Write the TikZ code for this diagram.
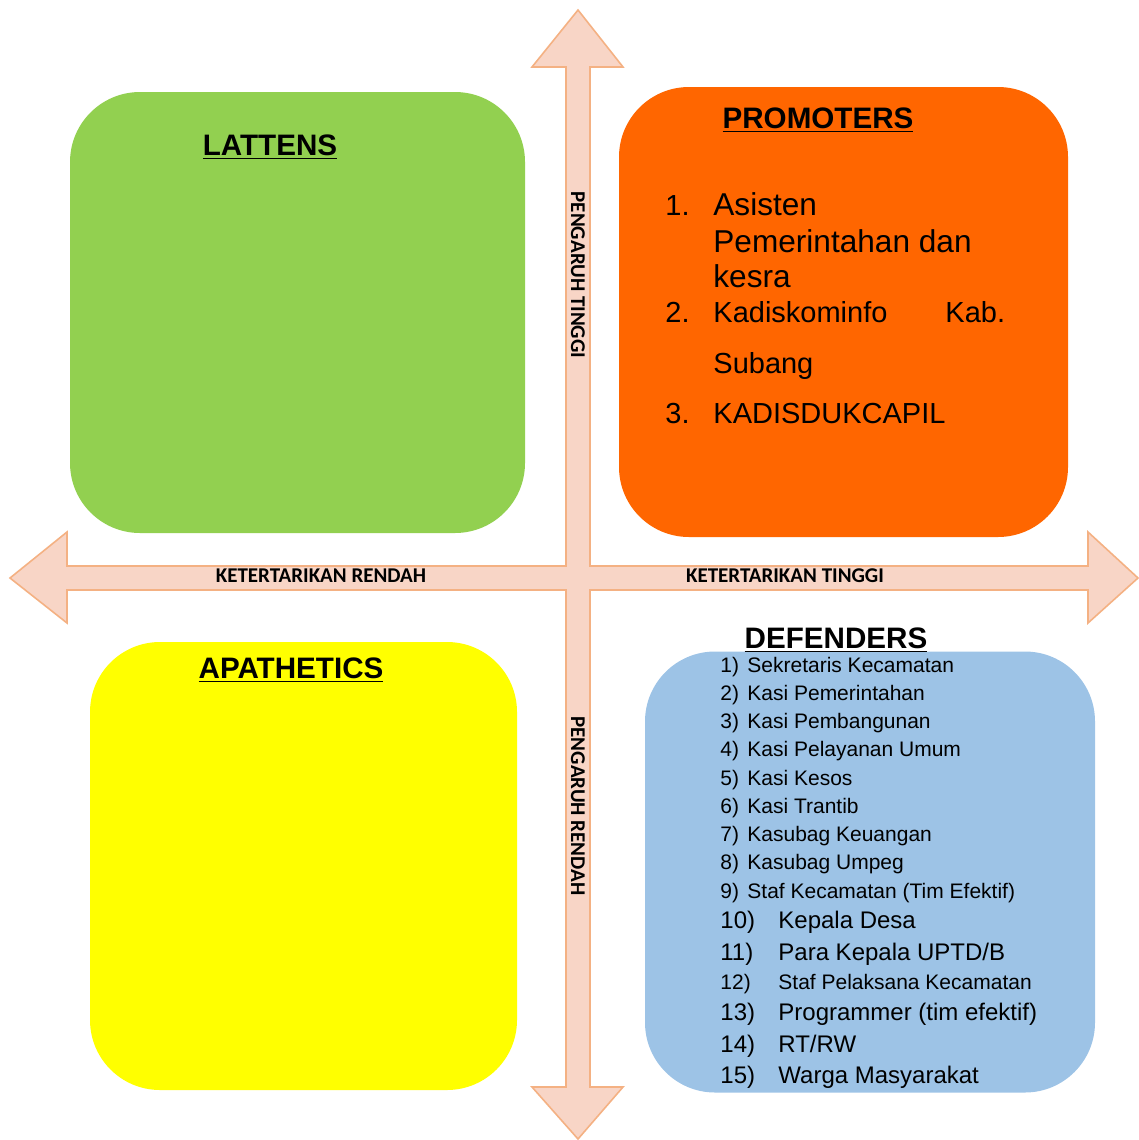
\documentclass[tikz,border=0pt]{standalone}
\usepackage{fontspec}
\setmainfont{Liberation Sans}
\newfontfamily\axisfont{Carlito}

\definecolor{latgreen}{RGB}{146,208,80}
\definecolor{proorange}{RGB}{255,102,0}
\definecolor{apayellow}{RGB}{255,255,0}
\definecolor{defblue}{RGB}{157,195,230}
\definecolor{arrowfill}{RGB}{248,213,198}
\definecolor{arrowline}{RGB}{244,177,131}

\tikzstyle{quad}=[rounded corners=35pt,inner sep=0pt]
\tikzstyle{axis}=[draw=arrowline,fill=arrowfill,line width=0.8pt,line join=miter]
\tikzstyle{axislabel}=[font=\axisfont\bfseries\fontsize{10.5}{12}\selectfont,inner sep=0pt]
\tikzstyle{heading}=[font=\bfseries\fontsize{14.8}{17}\selectfont,anchor=base,inner sep=0pt]
\tikzstyle{item}=[anchor=base west,inner sep=0pt]

\begin{document}
\begin{tikzpicture}[x=0.5pt,y=-0.5pt]
      \useasboundingbox (0,0) rectangle (1139,1140);
      % First we draw the crossing arrows
      \draw[axis] (578,10) -- (623,67) -- (590,67) -- (590,566) -- (1088,566) -- (1088,532)
            -- (1138,578) -- (1088,623) -- (1088,590) -- (590,590) -- (590,1087) -- (623,1087)
            -- (578,1139) -- (532,1087) -- (566,1087) -- (566,590) -- (67,590) -- (67,623)
            -- (10,578) -- (67,532) -- (67,566) -- (566,566) -- (566,67) -- (532,67) -- cycle;
      % Axis labels
      \node[axislabel,anchor=base] (lowint) at (321,582) {KETERTARIKAN RENDAH};
      \node[axislabel,anchor=base] (highint) at (785,582) {KETERTARIKAN TINGGI};
      \node[axislabel,rotate=-90] (highinf) at (578,275) {PENGARUH TINGGI};
      \node[axislabel,rotate=-90] (lowinf) at (578,806) {PENGARUH RENDAH};
      % Then the four quadrants
      \foreach \pos/\name/\col/\w/\h in {{(297.5,312.5)/lat/latgreen/227.5/220.5},
      {(843.5,312)/pro/proorange/224.5/225},
      {(303.5,866)/apa/apayellow/213.5/224},
      {(870,872)/def/defblue/225/220.5}}
            \node[quad,fill=\col,minimum width=\w pt,minimum height=\h pt] (\name) at \pos {};
      % Headings
      \node[heading] (latT) at (270,155) {\underline{LATTENS}};
      \node[heading] (proT) at (818,128) {\underline{PROMOTERS}};
      \node[heading] (apaT) at (291,678) {\underline{APATHETICS}};
      \node[heading] (defT) at (836,648) {\underline{DEFENDERS}};
      % Promoters list
      \foreach \pos/\name/\la/\sz in {{(665,215)/p1/1./14.5},{(713,215)/p1a/Asisten/15.8},
      {(713,252)/p1b/Pemerintahan dan/15.8},{(713,287)/p1c/kesra/15.8},
      {(665,322)/p2/2./14.5},{(713,322)/p2a/Kadiskominfo/14.5},{(945,322)/p2b/Kab./14.5},
      {(713,373)/p2c/Subang/14.5},{(665,423)/p3/3./14.5},{(713,423)/p3a/KADISDUKCAPIL/14.5}}
            \node[item,font=\fontsize{\sz}{17}\selectfont] (\name) at \pos {\la};
      % Defenders list
      \foreach \la [count=\i] in {Sekretaris Kecamatan,Kasi Pemerintahan,Kasi Pembangunan,
      Kasi Pelayanan Umum,Kasi Kesos,Kasi Trantib,Kasubag Keuangan,Kasubag Umpeg,
      Staf Kecamatan (Tim Efektif)}
      {
            \node[item,font=\fontsize{10.5}{12}\selectfont] (dn\i) at (720,{672+28.25*(\i-1)}) {\i)};
            \node[item,font=\fontsize{10.5}{12}\selectfont] (dt\i) at (747,{672+28.25*(\i-1)}) {\la};
      }
      \foreach \y/\n/\la/\sz in {928/10/Kepala Desa/12,960/11/Para Kepala {UPTD/B}/12,
      989/12/Staf Pelaksana Kecamatan/10.5,1020/13/Programmer (tim efektif)/12,
      1052/14/{RT/RW}/12,1083/15/Warga Masyarakat/12}
      {
            \node[item,font=\fontsize{\sz}{14}\selectfont] (dn\n) at (720,\y) {\n)};
            \node[item,font=\fontsize{\sz}{14}\selectfont] (dt\n) at (778,\y) {\la};
      }
\end{tikzpicture}
\end{document}
